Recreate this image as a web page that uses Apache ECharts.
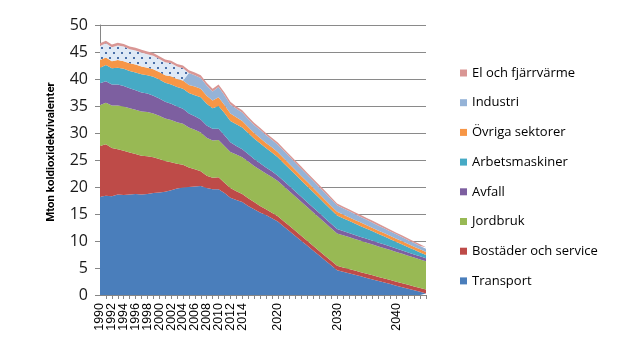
<!DOCTYPE html>
<html>
<head>
<meta charset="utf-8">
<script src="https://cdn.jsdelivr.net/npm/echarts@6/dist/echarts.min.js"></script>
<style>
  html, body { margin: 0; padding: 0; background: #fff; }
  #chart { width: 621px; height: 350px; }
</style>
</head>
<body>
<div id="chart"></div>
<script>
// årtal 1990-2045
var years = [];
for (var y = 1990; y <= 2045; y++) years.push(String(y));

// etiketter som visas på x-axeln
var shownLabels = ['1990', '1992', '1994', '1996', '1998', '2000', '2002', '2004', '2006',
    '2008', '2010', '2012', '2014', '2020', '2030', '2040'];

var transport = [18.2, 18.4, 18.3, 18.6, 18.5, 18.6, 18.7, 18.6, 18.7, 18.9,
    19.0, 19.1, 19.4, 19.7, 19.9, 20.0, 20.1, 20.2, 19.8, 19.6,
    19.6, 18.9, 18.0, 17.6, 17.2, 16.5, 15.9, 15.3, 14.8, 14.2,
    13.6, 12.7, 11.8, 10.9, 10.0, 9.1, 8.2, 7.3, 6.4, 5.5,
    4.6, 4.31, 4.03, 3.74, 3.45, 3.17, 2.88, 2.59, 2.31, 2.02,
    1.73, 1.45, 1.16, 0.87, 0.59, 0.3];

var bostader = [9.4, 9.5, 8.9, 8.4, 8.2, 7.8, 7.4, 7.2, 7.0, 6.6,
    6.2, 5.7, 5.2, 4.6, 4.2, 3.6, 3.2, 2.7, 2.3, 2.1,
    2.2, 1.9, 1.8, 1.6, 1.5, 1.4, 1.3, 1.2, 1.1, 1.05,
    1.0, 0.98, 0.96, 0.94, 0.92, 0.9, 0.88, 0.86, 0.84, 0.82,
    0.8, 0.79, 0.79, 0.78, 0.78, 0.77, 0.77, 0.76, 0.76, 0.75,
    0.74, 0.73, 0.72, 0.71, 0.7, 0.7];

var jordbruk = [7.6, 7.7, 7.9, 8.1, 8.2, 8.2, 8.2, 8.2, 8.2, 8.1,
    8.0, 7.9, 7.8, 7.7, 7.6, 7.4, 7.3, 7.2, 7.0, 6.9,
    6.9, 6.8, 6.7, 6.8, 6.8, 6.8, 6.7, 6.7, 6.6, 6.6,
    6.5, 6.45, 6.4, 6.35, 6.3, 6.25, 6.2, 6.15, 6.1, 6.05,
    6.0, 5.95, 5.9, 5.85, 5.8, 5.75, 5.7, 5.65, 5.6, 5.55,
    5.5, 5.45, 5.4, 5.35, 5.3, 5.25];

var avfall = [4.0, 4.0, 3.9, 3.9, 3.8, 3.7, 3.6, 3.5, 3.4, 3.3,
    3.2, 3.1, 3.0, 2.9, 2.8, 2.6, 2.5, 2.4, 2.3, 2.2,
    2.1, 2.0, 1.8, 1.6, 1.5, 1.4, 1.3, 1.2, 1.1, 1.05,
    1.0, 0.98, 0.96, 0.94, 0.92, 0.9, 0.88, 0.86, 0.84, 0.82,
    0.8, 0.78, 0.77, 0.75, 0.73, 0.72, 0.7, 0.68, 0.67, 0.65,
    0.63, 0.62, 0.6, 0.58, 0.57, 0.55];

var arbetsmaskiner = [2.9, 3.0, 3.0, 3.1, 3.2, 3.2, 3.3, 3.4, 3.4, 3.5,
    3.5, 3.5, 3.6, 3.6, 3.7, 3.8, 3.9, 4.1, 4.0, 3.8,
    4.2, 4.1, 3.9, 4.0, 4.0, 3.9, 3.8, 3.7, 3.6, 3.5,
    3.4, 3.31, 3.22, 3.13, 3.04, 2.95, 2.86, 2.77, 2.68, 2.59,
    2.5, 2.37, 2.25, 2.12, 1.99, 1.87, 1.74, 1.61, 1.49, 1.36,
    1.23, 1.11, 0.98, 0.85, 0.73, 0.6];

var ovriga = [1.4, 1.4, 1.3, 1.4, 1.4, 1.4, 1.5, 1.4, 1.4, 1.4,
    1.4, 1.4, 1.5, 1.5, 1.5, 1.5, 1.6, 1.6, 1.5, 1.4,
    1.6, 1.5, 1.4, 1.3, 1.2, 1.1, 1.0, 0.98, 0.96, 0.94,
    0.92, 0.9, 0.88, 0.85, 0.83, 0.81, 0.79, 0.77, 0.74, 0.72,
    0.7, 0.69, 0.68, 0.67, 0.66, 0.65, 0.64, 0.63, 0.62, 0.61,
    0.6, 0.59, 0.58, 0.57, 0.56, 0.55];

// Industri, heldragen del (från 2005)
var industri = [0, 0, 0, 0, 0, 0, 0, 0, 0, 0,
    0, 0, 0, 0, 0, 2.2, 2.1, 2.0, 1.9, 1.7,
    1.9, 1.8, 1.7, 1.6, 1.6, 1.5, 1.5, 1.5, 1.45, 1.4,
    1.4, 1.38, 1.36, 1.34, 1.32, 1.3, 1.28, 1.26, 1.24, 1.22,
    1.2, 1.16, 1.12, 1.08, 1.04, 1.0, 0.96, 0.92, 0.88, 0.84,
    0.8, 0.76, 0.72, 0.68, 0.64, 0.6];

// Industri, prickad del (1990-2004)
var industriPrickad = [2.6, 2.6, 2.6, 2.7, 2.7, 2.6, 2.6, 2.6, 2.5, 2.5,
    2.4, 2.4, 2.4, 2.3, 2.3, 0, 0, 0, 0, 0,
    0, 0, 0, 0, 0, 0, 0, 0, 0, 0,
    0, 0, 0, 0, 0, 0, 0, 0, 0, 0,
    0, 0, 0, 0, 0, 0, 0, 0, 0, 0,
    0, 0, 0, 0, 0, 0];

var elFjarrvarme = [0.5, 0.5, 0.5, 0.5, 0.5, 0.5, 0.5, 0.5, 0.5, 0.5,
    0.5, 0.5, 0.5, 0.5, 0.5, 0.5, 0.5, 0.5, 0.5, 0.5,
    0.5, 0.5, 0.5, 0.4, 0.4, 0.4, 0.4, 0.4, 0.4, 0.4,
    0.4, 0.4, 0.4, 0.4, 0.4, 0.4, 0.4, 0.4, 0.4, 0.4,
    0.35, 0.35, 0.35, 0.35, 0.35, 0.35, 0.35, 0.35, 0.3, 0.3,
    0.3, 0.3, 0.3, 0.3, 0.3, 0.3];

var legendNames = ['El och fjärrvärme', 'Industri', 'Övriga sektorer', 'Arbetsmaskiner',
    'Avfall', 'Jordbruk', 'Bostäder och service', 'Transport'];

(function() {
    //prickmönster för industri före 2005
    var makeDots = function() {
        var c = document.createElement('canvas');
        c.width = 8;
        c.height = 10;
        var ctx = c.getContext('2d');
        ctx.fillStyle = '#dfe9f6';
        ctx.fillRect(0, 0, 8, 10);
        ctx.fillStyle = '#4a6fa8';
        ctx.fillRect(1, 2, 2, 2);
        ctx.fillRect(5, 7, 2, 2);
        return c;
    };

    var area = function(name, data, color) {
        return {
            name: name,
            type: 'line',
            stack: 'total',
            data: data,
            showSymbol: false,
            symbol: 'none',
            lineStyle: { width: 0 },
            itemStyle: { color: color },
            areaStyle: { color: color, opacity: 1 },
            emphasis: { disabled: true },
            silent: true
        };
    };

    var series = [
        area('Transport', transport, '#4a7ebb'),
        area('Bostäder och service', bostader, '#be4b48'),
        area('Jordbruk', jordbruk, '#98b954'),
        area('Avfall', avfall, '#7d5fa0'),
        area('Arbetsmaskiner', arbetsmaskiner, '#46aac5'),
        area('Övriga sektorer', ovriga, '#f79646'),
        area('Industri', industri, '#95b3d7'),
        area('Industri (prickad)', industriPrickad, { image: makeDots(), repeat: 'repeat' }),
        area('El och fjärrvärme', elFjarrvarme, '#d99694')
    ];

    var labelStyle = {
        rotate: 90,
        margin: 8,
        fontFamily: 'Liberation Sans',
        fontSize: 12.5,
        color: '#000'
    };

    var echart = echarts.init(document.getElementById('chart'), null, { renderer: 'canvas' });
    var option = {
        animation: false,
        grid: {
            left: 100,
            right: 195,
            top: 25,
            bottom: 55
        },
        legend: {
            data: legendNames,
            orient: 'vertical',
            left: 455,
            top: 60,
            icon: 'rect',
            itemWidth: 7,
            itemHeight: 7,
            itemGap: 13.7,
            selectedMode: false,
            textStyle: {
                fontFamily: 'Open Sans',
                fontSize: 13,
                lineHeight: 16,
                color: '#000'
            }
        },
        graphic: [{
            type: 'text',
            x: 51,
            y: 152,
            rotation: Math.PI / 2,
            style: {
                text: 'Mton koldioxidekvivalenter',
                fontFamily: 'Roboto',
                fontWeight: 'bold',
                fontSize: 11.5,
                fill: '#000',
                align: 'center',
                verticalAlign: 'middle'
            }
        }],
        xAxis: [{
            type: 'category',
            boundaryGap: false,
            data: years,
            axisLine: { lineStyle: { color: '#868686' } },
            axisTick: {
                interval: 0,
                length: 4,
                lineStyle: { color: '#868686' }
            },
            axisLabel: echarts.util.extend({
                interval: function(index, value) {
                    return shownLabels.indexOf(value) >= 0;
                },
                showMinLabel: false
            }, labelStyle),
            splitLine: { show: false }
        }, {
            // bara etiketten 1990
            type: 'category',
            position: 'bottom',
            boundaryGap: false,
            data: years,
            axisLine: { show: false },
            axisTick: { show: false },
            axisLabel: echarts.util.extend({
                interval: function(index) {
                    return index === 0;
                },
                showMinLabel: true
            }, labelStyle),
            splitLine: { show: false }
        }],
        yAxis: {
            type: 'value',
            min: 0,
            max: 50,
            interval: 5,
            axisLine: { show: true, lineStyle: { color: '#868686' } },
            axisTick: { show: true, length: 5, lineStyle: { color: '#868686' } },
            axisLabel: {
                margin: 12,
                fontFamily: 'Open Sans',
                fontSize: 16,
                color: '#1a1a1a'
            },
            splitLine: { lineStyle: { color: '#8a8a8a' } }
        },
        series: series
    };
    echart.setOption(option);
})();
</script>
</body>
</html>
